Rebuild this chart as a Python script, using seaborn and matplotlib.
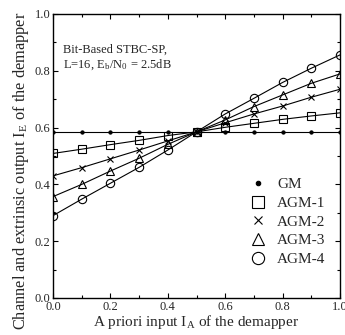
import numpy as np
import pandas as pd
import matplotlib
matplotlib.use("Agg")
import matplotlib.pyplot as plt
from matplotlib.lines import Line2D
from matplotlib.ticker import MultipleLocator, FormatStrFormatter
import seaborn as sns

ia = [0.0, 0.1, 0.2, 0.3, 0.4, 0.5, 0.6, 0.7, 0.8, 0.9, 1.0]
gm = [0.585] * 11
agm1 = [0.509, 0.524, 0.540, 0.555, 0.572, 0.585, 0.601, 0.615, 0.629, 0.641, 0.652]
agm2 = [0.430, 0.459, 0.490, 0.521, 0.553, 0.585, 0.617, 0.648, 0.676, 0.707, 0.735]
agm3 = [0.357, 0.400, 0.447, 0.492, 0.541, 0.585, 0.627, 0.674, 0.715, 0.756, 0.789]
agm4 = [0.290, 0.348, 0.404, 0.460, 0.521, 0.585, 0.648, 0.703, 0.759, 0.809, 0.856]
series_names = ["GM", "AGM-1", "AGM-2", "AGM-3", "AGM-4"]
series_vals = [gm, agm1, agm2, agm3, agm4]

sns.set_theme(style="ticks")
plt.rcParams["font.family"] = ["Liberation Serif", "DejaVu Serif"]
plt.rcParams["mathtext.fontset"] = "stix"

df = pd.DataFrame({
    "IA": ia * len(series_names),
    "IE": sum(series_vals, []),
    "series": sum([[n] * len(ia) for n in series_names], []),
})

fig = plt.figure(figsize=(3.45, 3.35), dpi=100)
ax = fig.add_axes([53 / 345, 37 / 335, 287 / 345, 284 / 335])

markers = {"GM": "o", "AGM-1": "s", "AGM-2": "x", "AGM-3": "^", "AGM-4": "o"}
msizes = {"GM": 2.3, "AGM-1": 5.8, "AGM-2": 4.5, "AGM-3": 6.2, "AGM-4": 6.0}
leg_sizes = {"GM": 3.2, "AGM-1": 8.5, "AGM-2": 5.8, "AGM-3": 9.0, "AGM-4": 8.8}
for name in series_names:
    sub = df[df["series"] == name]
    filled = name == "GM"
    sns.lineplot(data=sub, x="IA", y="IE", ax=ax, color="black", lw=0.8,
                 marker=markers[name], markersize=msizes[name],
                 markerfacecolor="black" if filled else "none",
                 markeredgecolor="black", markeredgewidth=0.8,
                 legend=False)

ax.set_xlim(0, 1)
ax.set_ylim(0, 1)
ax.xaxis.set_major_locator(MultipleLocator(0.2))
ax.xaxis.set_minor_locator(MultipleLocator(0.1))
ax.yaxis.set_major_locator(MultipleLocator(0.2))
ax.yaxis.set_minor_locator(MultipleLocator(0.1))
ax.xaxis.set_major_formatter(FormatStrFormatter("%.1f"))
ax.yaxis.set_major_formatter(FormatStrFormatter("%.1f"))
ax.tick_params(which="both", direction="in", top=True, right=True,
               labelsize=9, width=0.8, color="black", pad=2)
ax.tick_params(which="major", length=3.5)
ax.tick_params(which="minor", length=2)
for s in ax.spines.values():
    s.set_linewidth(1.0)
    s.set_color("black")

ax.set_xlabel(r"A priori input I$_\mathregular{A}$ of the demapper", fontsize=11, labelpad=0)
ax.set_ylabel(r"Channel and extrinsic output I$_\mathregular{E}$ of the demapper", fontsize=11.8)
ax.yaxis.set_label_coords(-0.075, 0.447)

ax.text(0.035, 0.895, "Bit-Based STBC-SP,\n" + r"L=16, E$_\mathregular{b}$/N$_\mathregular{0}$ = 2.5dB",
        ha="left", va="top", fontsize=9, linespacing=1.15)

handles = []
for name in series_names:
    filled = name == "GM"
    handles.append(Line2D([], [], linestyle="none", marker=markers[name],
                          markersize=leg_sizes[name],
                          markerfacecolor="black" if filled else "none",
                          markeredgecolor="black", markeredgewidth=0.8))
ax.legend(handles, series_names, loc="upper left", bbox_to_anchor=(0.682, 0.424),
          frameon=False, fontsize=11, labelspacing=0.33, handletextpad=0.65,
          handlelength=1.2, borderaxespad=0, borderpad=0)

fig.savefig("out.png", dpi=100)
